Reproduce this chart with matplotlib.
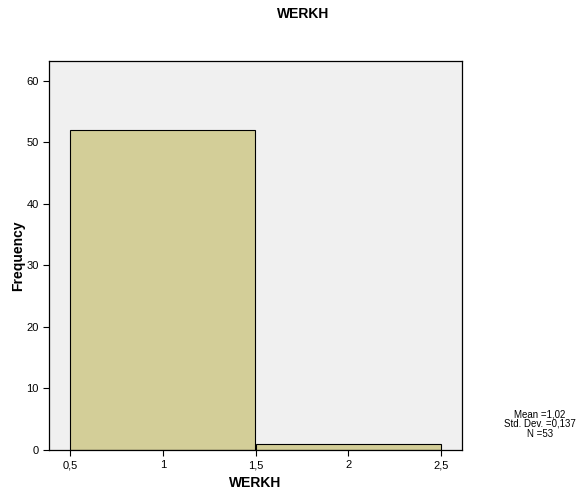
import matplotlib
matplotlib.use('Agg')
import matplotlib.pyplot as plt
from matplotlib.ticker import FuncFormatter

plt.rcParams['font.family'] = ['Liberation Sans', 'DejaVu Sans']

# histogram data
bin_edges = [0.5, 1.5, 2.5]
counts = [52, 1]
xticks = [0.5, 1, 1.5, 2, 2.5]
yticks = [0, 10, 20, 30, 40, 50, 60]
stats_text = "Mean =1,02\nStd. Dev. =0,137\nN =53"

fig = plt.figure(figsize=(5.81, 4.93), dpi=100)
ax = fig.add_axes([49/581, 1 - 450/493, (462-49)/581, (450-61)/493])
ax.set_facecolor('#F0F0F0')

widths = [bin_edges[i+1] - bin_edges[i] for i in range(len(counts))]
ax.bar(bin_edges[:-1], counts, width=widths, align='edge',
       color='#D3CE98', edgecolor='black', linewidth=0.8)

ax.set_xlim(0.387, 2.613)
ax.set_ylim(0, 63.2)
ax.set_xticks(xticks)
ax.set_yticks(yticks)
ax.xaxis.set_major_formatter(FuncFormatter(lambda v, p: f"{v:g}".replace('.', ',')))
ax.tick_params(labelsize=8, length=4, direction='out', width=0.8)
for s in ax.spines.values():
    s.set_linewidth(0.9)

ax.set_xlabel('WERKH', fontsize=10, fontweight='bold', labelpad=4)
ax.set_ylabel('Frequency', fontsize=10, fontweight='bold', labelpad=1)
fig.text(303/581, 1 - 14/493, 'WERKH', ha='center', va='center', fontsize=10, fontweight='bold')
fig.text(540/581, 1 - 424/493, stats_text, ha='center', va='center', fontsize=7, linespacing=0.95)

fig.savefig('out.png', dpi=100)
